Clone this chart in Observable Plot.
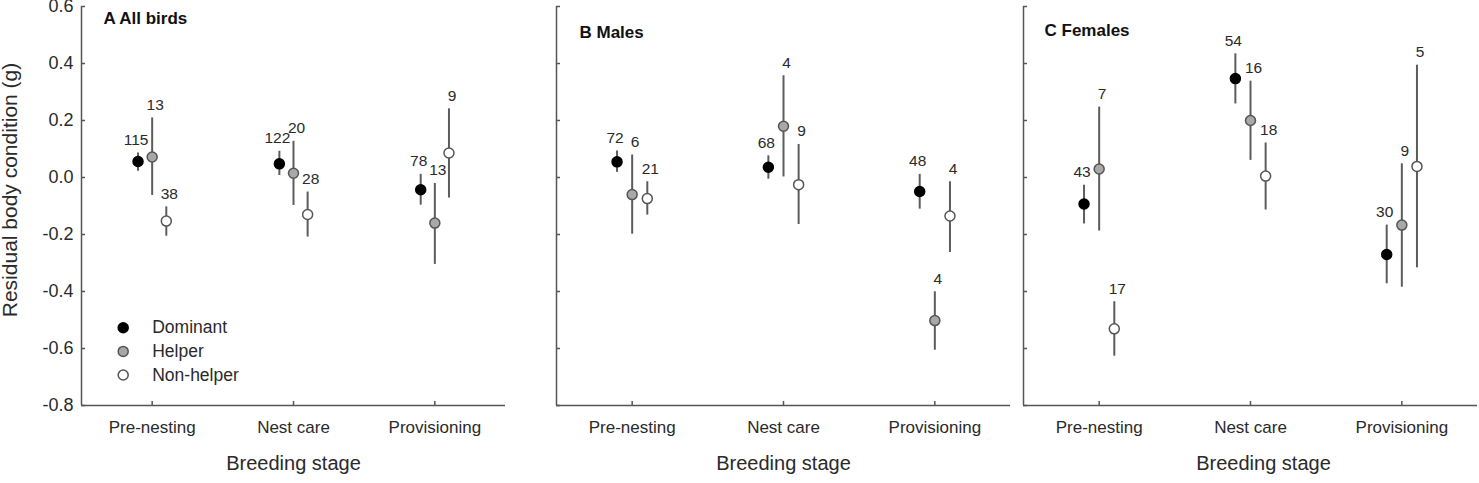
<!DOCTYPE html>
<html>
<head>
<meta charset="utf-8">
<script src="https://cdn.jsdelivr.net/npm/d3@7"></script>
<script src="https://cdn.jsdelivr.net/npm/@observablehq/plot@0.6"></script>
<style>
  html, body { margin: 0; padding: 0; background: #fff; }
  #chart { position: relative; width: 1479px; height: 483px; overflow: hidden; background: #fff; }
  #chart > div { position: absolute; top: 0; }
</style>
</head>
<body>
<div id="chart"></div>
<script>
// Breeding stages (x categories) and social status groups (series)
const stages = ["Pre-nesting", "Nest care", "Provisioning"];
const groups = ["Dominant", "Helper", "Non-helper"];
const yTicks = [-0.8, -0.6, -0.4, -0.2, 0, 0.2, 0.4, 0.6];

const xTitle = "Breeding stage";
const yTitle = "Residual body condition (g)";

// Values are listed stage by stage: Dominant, Helper, Non-helper
// A — all birds
const allMean = [0.056, 0.072, -0.153,   0.048, 0.015, -0.130,   -0.043, -0.160, 0.086];
const allLow  = [0.022, -0.063, -0.206,  0.007, -0.098, -0.209,  -0.097, -0.305, -0.072];
const allHigh = [0.086, 0.209, -0.103,   0.092, 0.127, -0.051,   0.011, -0.021, 0.241];
const allN    = [115, 13, 38,            122, 20, 28,            78, 13, 9];

// B — males
const maleMean = [0.055, -0.060, -0.074,  0.036, 0.180, -0.025,  -0.049, -0.502, -0.135];
const maleLow  = [0.018, -0.199, -0.132,  -0.006, 0.002, -0.165, -0.111, -0.606, -0.263];
const maleHigh = [0.093, 0.079, -0.015,   0.076, 0.357, 0.116,   0.011, -0.401, -0.015];
const maleN    = [72, 6, 21,              68, 4, 9,              48, 4, 4];

// C — females
const femaleMean = [-0.093, 0.030, -0.531,  0.347, 0.200, 0.005,   -0.270, -0.167, 0.039];
const femaleLow  = [-0.163, -0.188, -0.627, 0.258, 0.060, -0.114,  -0.373, -0.385, -0.317];
const femaleHigh = [-0.027, 0.247, -0.436,  0.434, 0.338, 0.121,   -0.167, 0.048, 0.394];
const femaleN    = [43, 7, 17,              54, 16, 18,            30, 9, 5];

// Marker styling per group
const fillOf   = {"Dominant": "#000000", "Helper": "#a8a8a8", "Non-helper": "#ffffff"};
const strokeOf = {"Dominant": "#000000", "Helper": "#555555", "Non-helper": "#555555"};
// sample-size labels lean slightly away from each other within a stage
const labelDx  = {"Dominant": -2, "Helper": 3, "Non-helper": 3};

const font = "'Liberation Sans', Arial, Helvetica, sans-serif";
const axisColor = "#555";
const textColor = "#2a2a2a";
const spread = 0.1; // horizontal offset between groups, in stage units

function rows(mean, low, high, n) {
  return mean.map((m, i) => ({
    stage: Math.floor(i / 3),
    gi: i % 3,
    group: groups[i % 3],
    mean: m, low: low[i], high: high[i], n: n[i]
  }));
}

const xPos = d => d.stage + (d.gi - 1) * spread;

const panels = [
  {id: "A", title: "A All birds", data: rows(allMean, allLow, allHigh, allN),
   left: 0, width: 510, marginLeft: 81, marginRight: 5,
   titleDx: 22, titleDy: 12, xTitleDx: 0, yLabels: true, legend: true},
  {id: "B", title: "B Males", data: rows(maleMean, maleLow, maleHigh, maleN),
   left: 540, width: 475, marginLeft: 16, marginRight: 5,
   titleDx: 23, titleDy: 26, xTitleDx: 0, yLabels: false, legend: false},
  {id: "C", title: "C Females", data: rows(femaleMean, femaleLow, femaleHigh, femaleN),
   left: 1012, width: 467, marginLeft: 11, marginRight: 2,
   titleDx: 21, titleDy: 24, xTitleDx: 13, yLabels: false, legend: false}
];

const chart = document.getElementById("chart");

for (const p of panels) {
  const marks = [
    // frame: left and bottom sides only
    Plot.ruleX([-0.5], {stroke: axisColor, strokeWidth: 1.5}),
    Plot.ruleY([-0.8], {stroke: axisColor, strokeWidth: 1.5}),
    Plot.axisY({
      ticks: yTicks,
      tickSize: -4,
      tickPadding: 12,
      tickFormat: p.yLabels ? (d => d.toFixed(1)) : (() => ""),
      fontSize: 18,
      stroke: axisColor,
      fill: textColor,
      strokeWidth: 1.5,
      label: null
    }),
    Plot.axisX({
      ticks: [0, 1, 2],
      tickSize: -4,
      tickPadding: 19,
      tickFormat: i => stages[i],
      fontSize: 17,
      stroke: axisColor,
      fill: textColor,
      strokeWidth: 1.5,
      label: null
    }),
    // error bars
    Plot.ruleX(p.data, {x: xPos, y1: "low", y2: "high", stroke: "#5c5c5c", strokeWidth: 2}),
    // means
    Plot.dot(p.data, {
      x: xPos, y: "mean", r: 5,
      fill: d => fillOf[d.group], stroke: d => strokeOf[d.group], strokeWidth: 1.5
    }),
    // panel title
    Plot.text([p.title], {
      frameAnchor: "top-left", text: d => d, dx: p.titleDx, dy: p.titleDy,
      textAnchor: "start", lineAnchor: "middle",
      fontSize: 17, fontWeight: "bold", fill: "#111"
    }),
    // x axis title
    Plot.text([xTitle], {
      frameAnchor: "bottom", text: d => d, dx: p.xTitleDx, dy: 58,
      textAnchor: "middle", lineAnchor: "middle", fontSize: 20, fill: textColor
    })
  ];

  // sample sizes above each bar
  for (const g of groups) {
    marks.push(Plot.text(p.data.filter(d => d.group === g), {
      x: xPos, y: "high", text: d => String(d.n),
      dx: labelDx[g], dy: -13, fontSize: 15.5, fill: textColor, lineAnchor: "middle"
    }));
  }

  if (p.yLabels) {
    marks.push(Plot.text([yTitle], {
      frameAnchor: "left", text: d => d, rotate: -90, dx: -71, dy: -16,
      textAnchor: "middle", lineAnchor: "middle", fontSize: 21, fill: textColor
    }));
  }

  if (p.legend) {
    groups.forEach((g, i) => {
      const dy = -77.7 + i * 23.6;
      marks.push(Plot.dot([g], {
        frameAnchor: "bottom-left", dx: 41.7, dy, r: 5,
        fill: fillOf[g], stroke: strokeOf[g], strokeWidth: 1.5
      }));
      marks.push(Plot.text([g], {
        frameAnchor: "bottom-left", text: d => d, dx: 70.7, dy,
        textAnchor: "start", lineAnchor: "middle", fontSize: 17.5, fill: textColor
      }));
    });
  }

  const svg = Plot.plot({
    width: p.width,
    height: 483,
    marginLeft: p.marginLeft,
    marginRight: p.marginRight,
    marginTop: 6,
    marginBottom: 78,
    x: {type: "linear", domain: [-0.5, 2.5], label: null},
    y: {domain: [-0.8, 0.6], label: null},
    color: {type: "identity"},
    style: {fontFamily: font, background: "transparent", overflow: "visible"},
    marks
  });

  const holder = document.createElement("div");
  holder.style.left = p.left + "px";
  holder.appendChild(svg);
  chart.appendChild(holder);
}
</script>
</body>
</html>
